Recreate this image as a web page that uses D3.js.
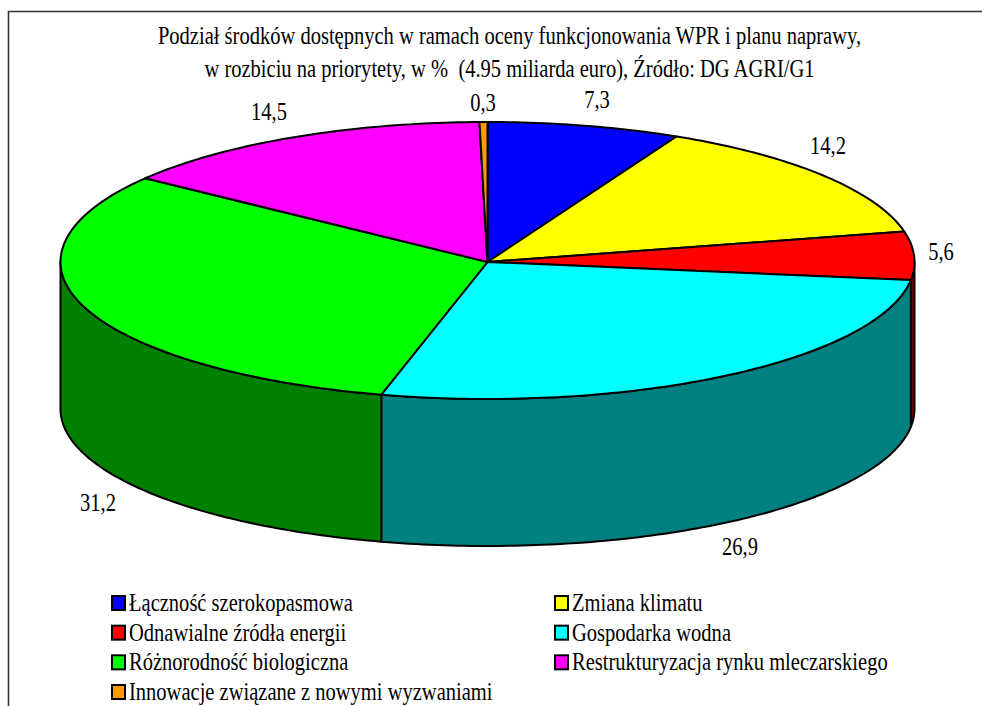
<!DOCTYPE html>
<html><head><meta charset="utf-8">
<style>html,body{margin:0;padding:0;background:#fff}svg{display:block}text{font-family:"Liberation Serif",serif;fill:#000}</style>
<script src="https://cdn.jsdelivr.net/npm/d3@7/dist/d3.min.js"></script>
</head><body><svg id="c" width="982" height="706"></svg>
<script>
const categories=["Łączność szerokopasmowa","Zmiana klimatu","Odnawialne źródła energii","Gospodarka wodna","Różnorodność biologiczna","Restrukturyzacja rynku mleczarskiego","Innowacje związane z nowymi wyzwaniami"];
const values=[7.3,14.2,5.6,26.9,31.2,14.5,0.3];
const valueLabels=["7,3","14,2","5,6","26,9","31,2","14,5","0,3"];
const topColors=["#0000ff","#ffff00","#ff0000","#00ffff","#00ff00","#ff00ff","#ff9900"];
const sideColors=["#000080","#808000","#800000","#008080","#008000","#800080","#804c00"];
const titleLines=["Podział środków dostępnych w ramach oceny funkcjonowania WPR i planu naprawy,","w rozbiciu na priorytety, w %  (4.95 miliarda euro), Źródło: DG AGRI/G1"];

const cx=487.5,cy=262,rx=427,ryBack=140,ryFront=137,depth=147,squeeze=0.79;
const svg=d3.select("#c");
const px=a=>cx+rx*Math.sin(a);
const py=a=>{const c=Math.cos(a);return cy-(c>0?ryBack:ryFront)*c;};
const arcs=d3.pie().sort(null).value(d=>d)(values);
function arcPts(a0,a1,dy=0){const n=Math.max(2,Math.ceil((a1-a0)*60));
  return d3.range(n+1).map(i=>{const a=a0+(a1-a0)*i/n;return [px(a),py(a)+dy]});}
const line=d3.line();
svg.append("path").attr("d",line([[8.5,706],[8.5,11.5],[982,11.5]])).attr("fill","none").attr("stroke","#333").attr("stroke-width",1.6);
const g=svg.append("g").attr("stroke","#000").attr("stroke-width",2).attr("stroke-linejoin","round");
arcs.forEach((d,i)=>{
  const a0=Math.max(d.startAngle,Math.PI/2),a1=Math.min(d.endAngle,Math.PI*1.5);
  if(a1<=a0)return;
  const pts=arcPts(a0,a1).concat(arcPts(a0,a1,depth).reverse());
  g.append("path").attr("d",line(pts)+"Z").attr("fill",sideColors[i]);
});
arcs.forEach((d,i)=>{
  const pts=[[cx,cy]].concat(arcPts(d.startAngle,d.endAngle));
  g.append("path").attr("d",line(pts)+"Z").attr("fill",topColors[i]);
});
function txt(s,x,y,size,anchor){
  return svg.append("text").attr("transform",`translate(${x},${y}) scale(${squeeze},1)`).attr("text-anchor",anchor||"start").attr("font-size",size).style("white-space","pre").text(s);
}
titleLines.forEach((t,i)=>txt(t,509.5,[44,77][i],26,"middle"));
const labelPos=[[597,108],[828,154],[941,260],[740,555],[98,511],[269,120],[483,111]];
valueLabels.forEach((s,i)=>txt(s,labelPos[i][0],labelPos[i][1],26,"middle"));
const colX=d3.scaleOrdinal().domain([0,1]).range([111,554]);
const rowY=d3.scaleLinear().domain([0,3]).range([603,692]);
categories.forEach((c,i)=>{
  const col=i%2,row=Math.floor(i/2);
  svg.append("rect").attr("x",colX(col)+1).attr("y",rowY(row)-7).attr("width",13).attr("height",14).attr("fill",topColors[i]).attr("stroke","#000").attr("stroke-width",2);
  txt(c,colX(col)+18,rowY(row)+8,26);
});
</script></body></html>
